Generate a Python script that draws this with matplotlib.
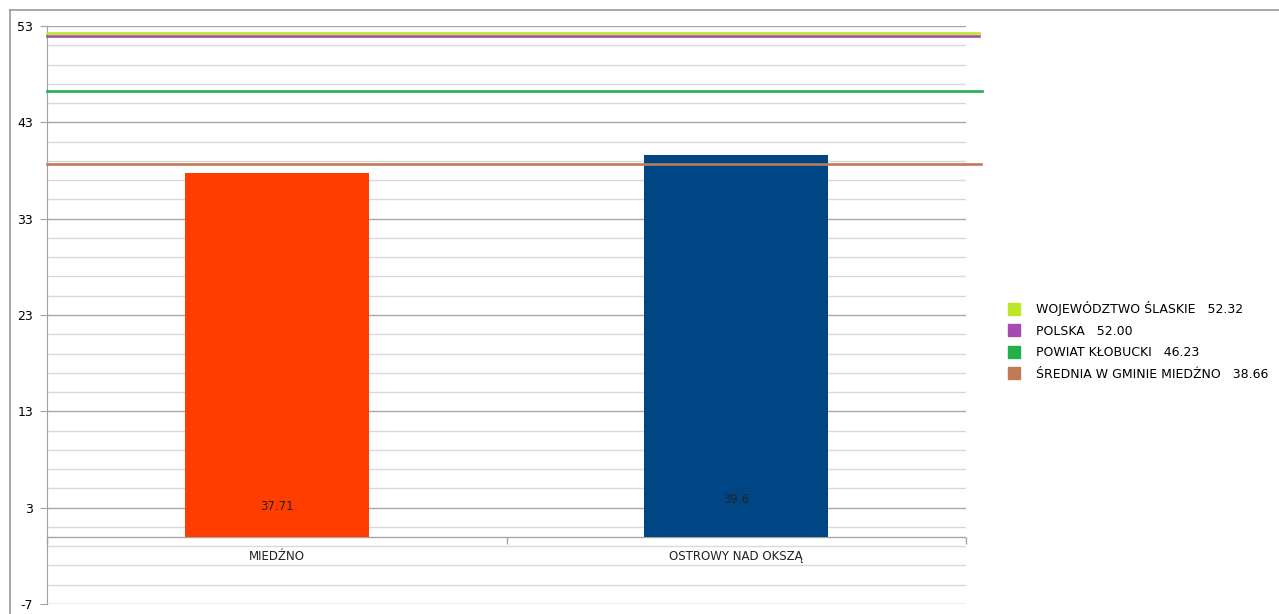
import matplotlib
matplotlib.use("Agg")
import matplotlib.pyplot as plt
import numpy as np
from matplotlib.lines import Line2D
import matplotlib.transforms as mtransforms

# ---- data ----
categories = ["MIEDŹNO", "OSTROWY NAD OKSZĄ"]
bar_values = [37.71, 39.6]
bar_colors = ["#FF3D00", "#004685"]

ref_names = ["WOJEWÓDZTWO ŚLASKIE", "POLSKA", "POWIAT KŁOBUCKI", "ŚREDNIA W GMINIE MIEDŹNO"]
ref_values = [52.32, 52.00, 46.23, 38.66]
ref_colors = ["#BDE626", "#A64CB0", "#22B04C", "#C07A55"]
ref_line_ends = [1.014, 1.014, 1.017, 1.016]

y_major = [-7, 3, 13, 23, 33, 43, 53]

plt.rcParams['font.family'] = ['DejaVu Sans']
plt.rcParams['axes.unicode_minus'] = False

fig = plt.figure(figsize=(12.79, 6.14), dpi=100)
ax = fig.add_axes([47/1279, 1-604/614, (966-47)/1279, (604-26)/614])

x = np.arange(len(categories))
ax.bar(x, bar_values, width=0.4, color=bar_colors, zorder=3)
ax.set_xlim(-0.5, len(categories)-0.5)
ax.set_ylim(-7, 53)

# grid
ax.set_yticks(y_major)
minor = [v for v in range(-7, 54, 2) if v not in y_major]
ax.set_yticks(minor, minor=True)
ax.grid(axis='y', which='major', color='#A6A6A6', linewidth=1.0, zorder=0)
ax.grid(axis='y', which='minor', color='#D9D9D9', linewidth=1.0, zorder=0)
ax.tick_params(axis='y', which='major', length=5, color='#A0A0A0', labelsize=9, pad=5)
ax.tick_params(axis='y', which='minor', length=0)
ax.set_xticks([])
for s in ['top', 'right', 'bottom']:
    ax.spines[s].set_visible(False)
ax.spines['left'].set_color('#A0A0A0')

# x axis at zero with category boundary ticks
ax.axhline(0, color='#A6A6A6', linewidth=1.0, zorder=2)
for b in np.arange(-0.5, len(categories), 1.0):
    ax.plot([b], [0], marker=3, markersize=5, markeredgewidth=1.0, color='#A6A6A6',
            clip_on=False, zorder=2)
for xi, name in zip(x, categories):
    ax.annotate(name, (xi, 0), xytext=(0, -14), textcoords='offset points',
                ha='center', va='center', fontsize=8.5, color='#222222')

# bar labels near bottom
for xi, v, off in zip(x, bar_values, [22, 27]):
    ax.annotate(str(v), (xi, 0), xytext=(0, off), textcoords='offset points',
                ha='center', va='center', fontsize=8.5, color='#222222', zorder=4)

# reference lines
trans = mtransforms.blended_transform_factory(ax.transAxes, ax.transData)
for v, c, e in zip(ref_values, ref_colors, ref_line_ends):
    ax.plot([0, e], [v, v], color=c, linewidth=1.9, transform=trans, clip_on=False, zorder=4)

# legend
handles = [Line2D([], [], marker='s', linestyle='none', markersize=8, color=c) for c in ref_colors]
labels = [f"{n}   {v:.2f}" for n, v in zip(ref_names, ref_values)]
fig.legend(handles, labels, loc='upper left', bbox_to_anchor=(996/1279, 1-290/614),
           frameon=False, fontsize=9, labelspacing=0.68, handletextpad=1.3, handlelength=1.0)

# outer frame
fig.add_artist(Line2D([10/1279, 1], [1-10/614, 1-10/614], color='#999999', linewidth=1.2))
fig.add_artist(Line2D([10/1279, 10/1279], [0, 1-10/614], color='#999999', linewidth=1.2))

fig.savefig("out.png", dpi=100)
